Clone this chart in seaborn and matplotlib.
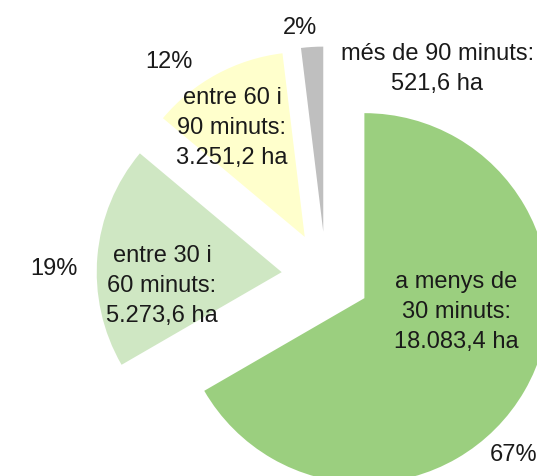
import matplotlib
matplotlib.use("Agg")
import matplotlib.pyplot as plt
import seaborn as sns

sns.set_theme(style="white")
plt.rcParams['font.family'] = ['Liberation Sans', 'DejaVu Sans']

categories = ["a menys de\n30 minuts:", "entre 30 i\n60 minuts:", "entre 60 i\n90 minuts:", "més de 90 minuts:"]
values = [18083.4, 5273.6, 3251.2, 521.6]
value_labels = ["18.083,4 ha", "5.273,6 ha", "3.251,2 ha", "521,6 ha"]
pct_labels = ["67%", "19%", "12%", "2%"]
colors = ["#9BCF7F", "#CFE7C3", "#FFFFCC", "#BFBFBF"]

fig = plt.figure(figsize=(5.37, 4.77), dpi=100)
ax = fig.add_axes([0, 0, 1, 1])
ax.pie(values, colors=colors, startangle=90, counterclock=False,
       explode=[0.24] * 4, radius=1.0, wedgeprops=dict(linewidth=0))

ax.set_xlim(-1.762, 1.141)
ax.set_ylim(-1.081, 1.497)
ax.set_aspect('auto')
ax.axis('off')

cat_pos = [(0.705, -0.190), (-0.886, -0.049), (-0.508, 0.805), (0.603, 1.124)]
pct_pos = [(1.014, -0.960), (-1.473, 0.045), (-0.849, 1.164), (-0.141, 1.348)]

for c, v, (x, y) in zip(categories, value_labels, cat_pos):
    ax.text(x, y, c + "\n" + v, ha='center', va='center', fontsize=17,
            color='#1a1a1a', linespacing=1.45)
for p, (x, y) in zip(pct_labels, pct_pos):
    ax.text(x, y, p, ha='center', va='center', fontsize=17, color='#1a1a1a')

fig.savefig("out.png", dpi=100)
